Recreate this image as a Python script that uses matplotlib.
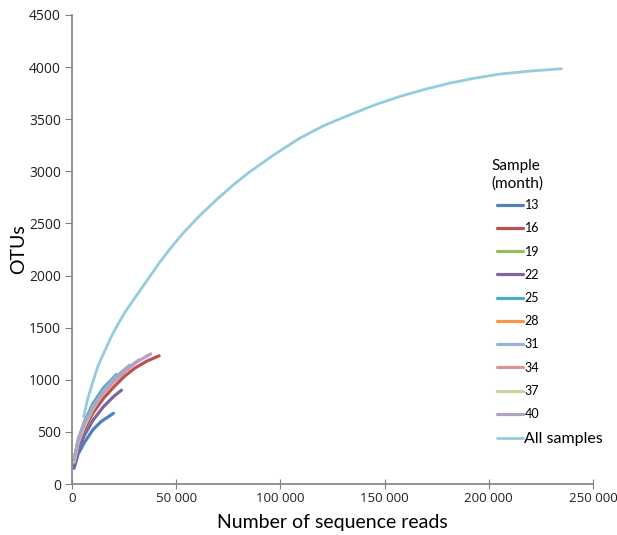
import matplotlib
matplotlib.use("Agg")
import matplotlib.pyplot as plt
from matplotlib.ticker import FuncFormatter

# rarefaction curves (reads, OTUs)
reads_13 = [1000, 3000, 6000, 10000, 14000, 19900]
otus_13 = [150, 290, 400, 520, 600, 678]

reads_16 = [1000, 3000, 6000, 10000, 15000, 20000, 25000, 30000, 36000, 41800]
otus_16 = [200, 380, 530, 680, 820, 930, 1030, 1110, 1180, 1230]

reads_19 = [1000, 3000, 6000, 10000, 14000, 18000]
otus_19 = [210, 400, 560, 720, 840, 950]

reads_22 = [1000, 3000, 6000, 10000, 15000, 20000, 23700]
otus_22 = [170, 330, 470, 610, 740, 840, 900]

reads_25 = [1000, 3000, 6000, 10000, 15000, 21300]
otus_25 = [230, 430, 600, 770, 920, 1050]

reads_28 = [1000, 3000, 6000, 10000, 15000, 20000]
otus_28 = [220, 410, 570, 730, 880, 1000]

reads_31 = [1000, 3000, 6000, 10000, 15000, 20000, 24000, 27700]
otus_31 = [220, 410, 580, 740, 890, 1010, 1080, 1140]

reads_34 = [1000, 3000, 6000, 10000, 15000, 20000, 26000, 32000]
otus_34 = [240, 420, 580, 730, 870, 980, 1090, 1190]

reads_37 = [1000, 3000, 6000, 10000, 13000, 16000]
otus_37 = [210, 400, 560, 720, 820, 900]

reads_40 = [1000, 3000, 6000, 10000, 15000, 20000, 25000, 30000, 37800]
otus_40 = [230, 420, 580, 730, 880, 990, 1080, 1160, 1248]

reads_all = [5600, 7500, 9800, 12500, 16000, 19000, 22300, 25800, 29500, 34000,
             38000, 42000, 46400, 53000, 60800, 70000, 78400, 85300, 97000,
             109300, 121000, 133300, 145000, 157300, 169000, 181300, 193000,
             205300, 220000, 234900]
otus_all = [646, 815, 967, 1135, 1290, 1420, 1542, 1660, 1766, 1895,
            2010, 2125, 2240, 2400, 2566, 2740, 2886, 2995, 3160,
            3318, 3440, 3542, 3635, 3718, 3785, 3846, 3893,
            3933, 3962, 3984]

samples = ["13", "16", "19", "22", "25", "28", "31", "34", "37", "40"]
sample_reads = [reads_13, reads_16, reads_19, reads_22, reads_25,
                reads_28, reads_31, reads_34, reads_37, reads_40]
sample_otus = [otus_13, otus_16, otus_19, otus_22, otus_25,
               otus_28, otus_31, otus_34, otus_37, otus_40]
colors = ["#4F81BD", "#C0504D", "#9BBB59", "#8064A2", "#4BACC6",
          "#F79646", "#95B3D7", "#D99694", "#C3D69B", "#B3A2C7"]
all_color = "#93CDDD"

x_ticks = [0, 50000, 100000, 150000, 200000, 250000]
y_ticks = [0, 500, 1000, 1500, 2000, 2500, 3000, 3500, 4000, 4500]

plt.rcParams["font.family"] = ["Open Sans", "DejaVu Sans"]

fig = plt.figure(figsize=(6.17, 5.35), dpi=100)
ax = fig.add_axes([0.1167, 0.0953, 0.8443, 0.8767])

handles = []
for name, xs, ys, c in zip(samples, sample_reads, sample_otus, colors):
    h, = ax.plot(xs, ys, color=c, linewidth=2.3, solid_capstyle="round", label=name)
    handles.append(h)
h_all, = ax.plot(reads_all, otus_all, color=all_color, linewidth=2.0,
                 solid_capstyle="round", label="All samples", zorder=1)
handles.append(h_all)

ax.set_xlim(0, 250000)
ax.set_ylim(0, 4500)
ax.set_xticks(x_ticks)
ax.set_yticks(y_ticks)
ax.xaxis.set_major_formatter(FuncFormatter(lambda v, p: f"{int(v):,}".replace(",", " ")))

for side in ["top", "right"]:
    ax.spines[side].set_visible(False)
for side in ["left", "bottom"]:
    ax.spines[side].set_color("#808080")
    ax.spines[side].set_linewidth(1.2)

ax.tick_params(axis="y", direction="out", length=5, color="#808080", labelsize=10,
               pad=3, labelcolor="#222222")
ax.tick_params(axis="x", direction="inout", length=7, color="#808080", labelsize=9.5,
               pad=2, labelcolor="#222222")

ax.set_xlabel("Number of sequence reads", family="Lato", fontsize=14, labelpad=7)
ax.set_ylabel("OTUs", family="Lato", fontsize=14, labelpad=1)

# legend title drawn as two text lines, entries below
fig.text(491 / 617, 1 - 170 / 535, "Sample", family="Lato", fontsize=11, va="baseline")
fig.text(491 / 617, 1 - 188 / 535, "(month)", family="Lato", fontsize=11, va="baseline")

leg = fig.legend(handles=handles, loc="upper left", bbox_to_anchor=(497 / 617, 1 - 199 / 535),
                 frameon=False, prop={"family": "Lato", "size": 9},
                 handlelength=2.1, handletextpad=0.1, labelspacing=0.9, borderpad=0,
                 borderaxespad=0)
leg.get_texts()[-1].set_fontsize(11.5)

fig.savefig("out.png", dpi=100)
